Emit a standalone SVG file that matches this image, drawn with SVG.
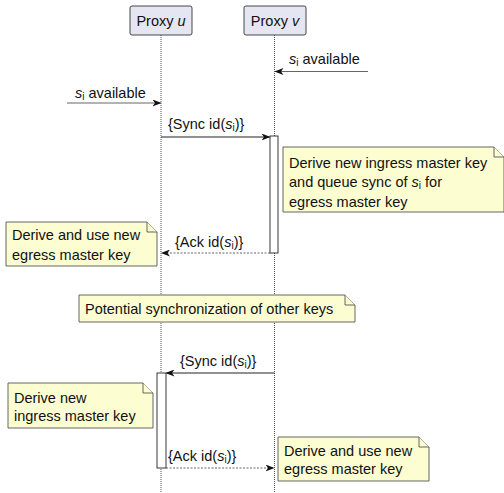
<svg xmlns="http://www.w3.org/2000/svg" width="504" height="493" viewBox="0 0 504 493">
<style>
text{font-family:"Liberation Sans",Arial,sans-serif;font-size:14.5px;fill:#111}
.hdr{fill:#e6e6f3;stroke:#333;stroke-width:0.9}
.life{stroke:#555;stroke-width:1;stroke-dasharray:1,1;fill:none}
.note{fill:#fdfdd2;stroke:#555;stroke-width:0.9}
.act{fill:#fff;stroke:#222;stroke-width:0.9}
.msg{stroke:#222;stroke-width:1;fill:none;marker-end:url(#ah)}
.msg2{stroke:#666;stroke-width:1;fill:none;marker-end:url(#ah)}
.dash{stroke:#555;stroke-width:0.9;stroke-dasharray:2,1.5;fill:none;marker-end:url(#ah)}
.i{font-style:italic}
.sub{font-size:10px}
</style>
<defs>
<marker id="ah" markerWidth="9" markerHeight="7" refX="8" refY="3.5" orient="auto" markerUnits="userSpaceOnUse">
<path d="M0,0 L9,3.5 L0,7 L2.5,3.5 z" fill="#111"/>
</marker>
</defs>
<g id="lifelines">
<line class="life" x1="161" y1="35" x2="161" y2="493"/>
<line class="life" x1="274.5" y1="35" x2="274.5" y2="493"/>
</g>
<g id="proxy-u"><rect class="hdr" x="130" y="6" width="62" height="29" rx="2"/><text x="161" y="25.5" text-anchor="middle">Proxy <tspan class="i">u</tspan></text></g>
<g id="proxy-v"><rect class="hdr" x="244" y="6" width="62" height="29" rx="2"/><text x="275" y="25.5" text-anchor="middle">Proxy <tspan class="i">v</tspan></text></g>
<g id="activations">
<rect class="act" x="270" y="136" width="8" height="117"/>
<rect class="act" x="157" y="373" width="9" height="95"/>
</g>
<g id="connectors">
<line class="msg2" x1="368" y1="71.5" x2="275.5" y2="71.5"/>
<line class="msg2" x1="67" y1="103" x2="160.5" y2="103"/>
<line class="msg" x1="161" y1="137" x2="269.5" y2="137"/>
<line class="dash" x1="270" y1="253" x2="162" y2="253"/>
<line class="msg" x1="274.5" y1="373" x2="166.5" y2="373"/>
<line class="dash" x1="166" y1="468" x2="273.5" y2="468"/>
</g>
<g id="labels">
<text x="289" y="64"><tspan class="i">s</tspan><tspan class="sub" dy="2">i</tspan><tspan dy="-2"> available</tspan></text>
<text x="75" y="97.5"><tspan class="i">s</tspan><tspan class="sub" dy="2">i</tspan><tspan dy="-2"> available</tspan></text>
<text x="168" y="128.5">{Sync id(<tspan class="i">s</tspan><tspan class="sub" dy="2">i</tspan><tspan dy="-2">)}</tspan></text>
<text x="175" y="246.5">{Ack id(<tspan class="i">s</tspan><tspan class="sub" dy="2">i</tspan><tspan dy="-2">)}</tspan></text>
<text x="180" y="366">{Sync id(<tspan class="i">s</tspan><tspan class="sub" dy="2">i</tspan><tspan dy="-2">)}</tspan></text>
<text x="168" y="461">{Ack id(<tspan class="i">s</tspan><tspan class="sub" dy="2">i</tspan><tspan dy="-2">)}</tspan></text>
</g>
<g id="note-derive-ingress-v">
<path class="note" d="M283,147 H494 L504,157 V212 H283 Z"/><path class="note" d="M494,147 V157 H504" fill="none"/>
<text x="289" y="168">Derive new ingress master key</text>
<text x="289" y="187">and queue sync of <tspan class="i">s</tspan><tspan class="sub" dy="2">i</tspan><tspan dy="-2"> for</tspan></text>
<text x="289" y="206.5">egress master key</text>
</g>
<g id="note-egress-u">
<path class="note" d="M6,222 H147 L157,232 V266 H6 Z"/><path class="note" d="M147,222 V232 H157" fill="none"/>
<text x="12" y="240">Derive and use new</text>
<text x="12" y="260">egress master key</text>
</g>
<g id="note-potential">
<path class="note" d="M79,295 H345 L355,305 V322 H79 Z"/><path class="note" d="M345,295 V305 H355" fill="none"/>
<text x="85" y="313.5">Potential synchronization of other keys</text>
</g>
<g id="note-ingress-u">
<path class="note" d="M8,383 H143 L153,393 V428 H8 Z"/><path class="note" d="M143,383 V393 H153" fill="none"/>
<text x="14" y="403">Derive new</text>
<text x="14" y="421">ingress master key</text>
</g>
<g id="note-egress-v">
<path class="note" d="M278,437 H419 L429,447 V481 H278 Z"/><path class="note" d="M419,437 V447 H429" fill="none"/>
<text x="284" y="456">Derive and use new</text>
<text x="284" y="474">egress master key</text>
</g>
</svg>
